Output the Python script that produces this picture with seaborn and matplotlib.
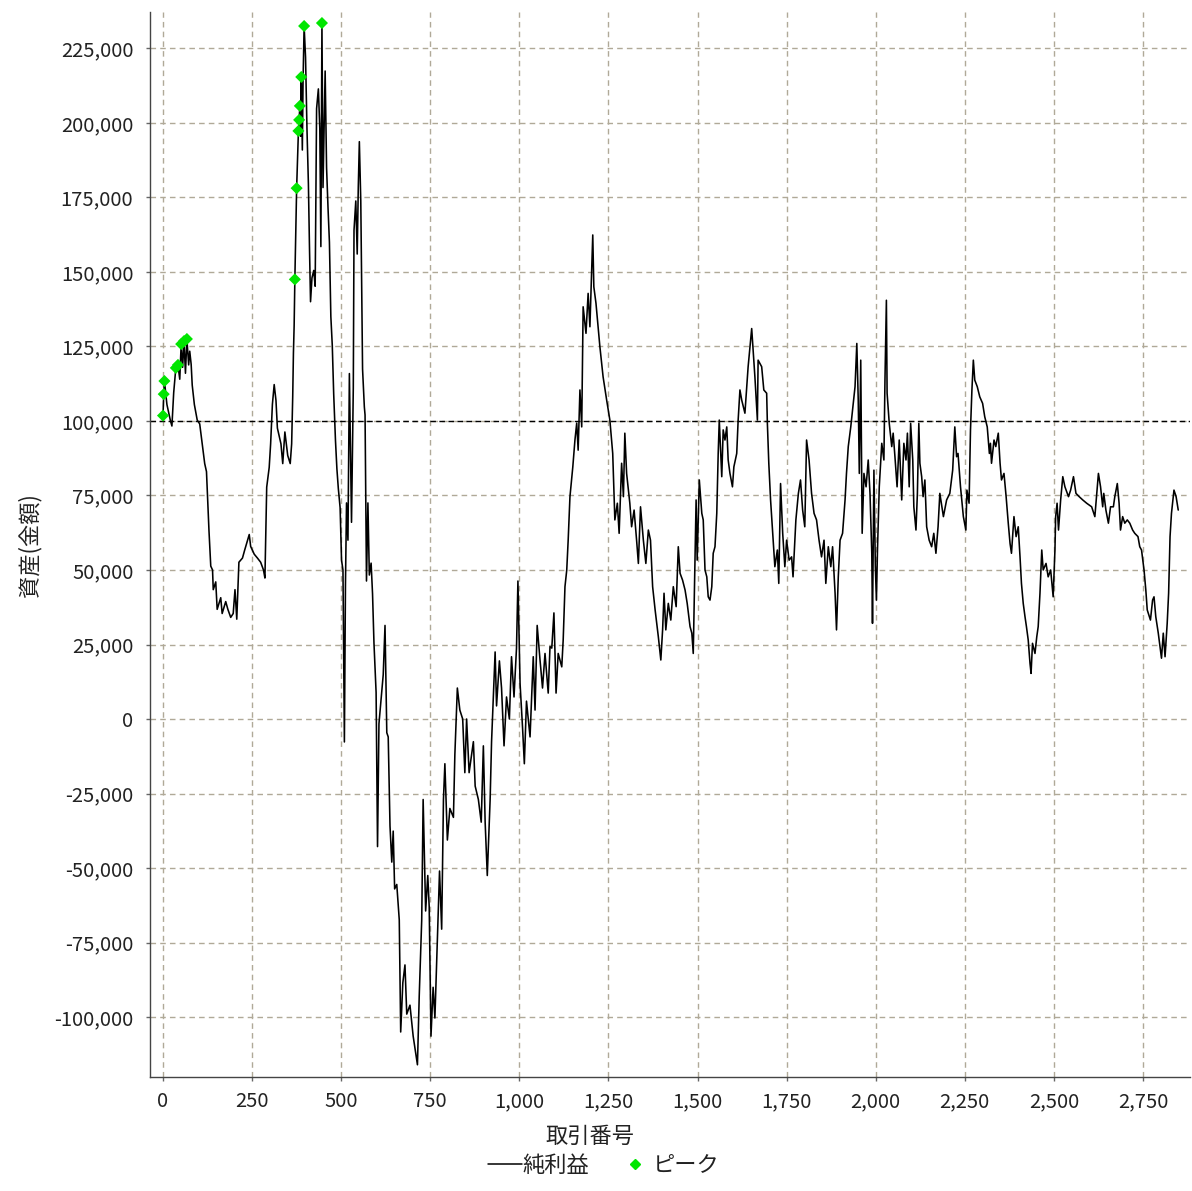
import numpy as np
import pandas as pd
import matplotlib
matplotlib.use('Agg')
import matplotlib.pyplot as plt
from matplotlib.lines import Line2D
from matplotlib.ticker import FuncFormatter, MultipleLocator
import seaborn as sns

# equity curve (trade number, equity in thousands)
trade_no = [
    0, 2, 4, 11, 21, 25, 30, 36, 42, 47,
    51, 55, 59, 63, 67, 72, 75, 79, 82, 88,
    96, 103, 110, 117, 122, 129, 134, 139, 141, 148,
    152, 162, 166, 176, 182, 190, 197, 202, 207, 213,
    223, 229, 242, 246, 256, 265, 274, 282, 286, 291,
    298, 302, 307, 312, 317, 321, 331, 336, 342, 350,
    357, 361, 364, 366, 368, 370, 375, 380, 382, 384,
    386, 388, 391, 393, 396, 400, 404, 408, 411, 414,
    418, 423, 427, 431, 436, 440, 443, 446,
    449, 455, 459, 463, 467, 471, 475, 479, 484, 488,
    492, 497, 501, 505, 509, 512, 515, 519, 523, 529,
    534, 536, 541, 545, 548, 551, 555, 560, 565, 567,
    569, 571, 575, 579, 584, 588, 592, 598, 602, 606,
    612, 618, 623, 628, 632, 637, 642, 646, 650, 656,
    663, 667, 673, 679, 684, 693, 702, 714, 719, 726,
    730, 737, 743, 747, 752, 758, 763, 770, 776, 782,
    787, 791, 798, 805, 815, 819, 826, 833, 841, 847,
    852, 859, 871, 876, 885, 893, 899, 904, 910, 918,
    922, 932, 936, 944, 950, 957, 964, 972, 978, 985,
    992, 996, 1002, 1009, 1014, 1020, 1030, 1039, 1044, 1050,
    1058, 1065, 1072, 1081, 1086, 1091, 1097, 1103, 1109, 1119,
    1123, 1128, 1133, 1137, 1142, 1150, 1156, 1161, 1165, 1170,
    1175, 1179, 1187, 1193, 1198, 1203, 1206, 1209, 1215, 1226,
    1235, 1245, 1254, 1262, 1268, 1275, 1280, 1287, 1292, 1296,
    1301, 1310, 1315, 1322, 1329, 1334, 1340, 1348, 1355, 1362,
    1368, 1374, 1381, 1390, 1397, 1402, 1406, 1411, 1418, 1425,
    1432, 1440, 1446, 1451, 1458, 1465, 1471, 1479, 1484, 1488,
    1493, 1496, 1499, 1505, 1512, 1516, 1521, 1526, 1530, 1535,
    1540, 1544, 1549, 1554, 1558, 1561, 1568, 1572, 1577, 1582,
    1586, 1591, 1598, 1602, 1610, 1614,
    1619, 1624, 1633, 1642, 1652, 1661, 1668, 1670, 1680, 1686,
    1694, 1696, 1700, 1705, 1711, 1717, 1724, 1728, 1733, 1739,
    1745, 1750, 1757, 1764, 1768, 1776, 1783, 1789, 1795, 1801,
    1806, 1813, 1820, 1827, 1834, 1841, 1848, 1855, 1860, 1867,
    1874, 1879, 1886, 1890, 1895, 1900, 1907, 1914, 1918, 1923,
    1930, 1935, 1942, 1947, 1951, 1954, 1958, 1962, 1967, 1973,
    1979, 1984, 1989, 1991, 1995, 1999, 2002, 2005, 2010, 2017,
    2023, 2026, 2030, 2032, 2038, 2045, 2049, 2054, 2060, 2066,
    2073, 2079, 2085, 2089, 2094, 2098, 2104, 2107, 2113, 2117,
    2121, 2124, 2129, 2133, 2138, 2143, 2150, 2157, 2163, 2169,
    2175,
    2180, 2190, 2199, 2208, 2216, 2222, 2227, 2231, 2238, 2246,
    2253, 2256, 2262, 2266, 2270, 2274, 2278, 2285, 2292, 2300,
    2306, 2313, 2319, 2322, 2325, 2332, 2337, 2344, 2349, 2353,
    2360, 2366, 2372, 2377, 2381, 2388, 2394, 2400, 2405, 2409,
    2414, 2419, 2423, 2428, 2433, 2436, 2440, 2447, 2452, 2456,
    2461, 2466, 2470, 2478, 2484, 2491, 2498, 2503, 2505, 2509,
    2513, 2519, 2525, 2531, 2541, 2547, 2555, 2562, 2571, 2581,
    2592, 2606, 2615, 2625, 2631, 2637, 2640, 2646, 2653, 2659,
    2667, 2671, 2678, 2683, 2687, 2693, 2699, 2706, 2713, 2721,
    2727, 2736, 2741, 2746, 2753, 2758, 2762, 2768, 2771, 2777,
    2781, 2786, 2793, 2799, 2802, 2807, 2812, 2818, 2822, 2826,
    2830, 2837, 2843, 2846, 2849,
]
equity_k = [
    101.8, 109.0, 113.4, 105.5, 100.0, 98.3, 109.5, 117.8, 118.8, 114.0,
    125.8, 118.0, 126.8, 116.0, 127.5, 118.8, 123.4, 119.0, 112.0, 105.5,
    100.3, 99.0, 92.3, 85.7, 83.0, 63.2, 51.3, 50.0, 43.4, 46.0,
    36.8, 40.7, 35.4, 39.4, 36.8, 34.1, 35.4, 43.4, 33.5, 52.6,
    54.0, 56.6, 61.9, 57.9, 55.3, 54.0, 52.6, 50.0, 47.3, 77.8,
    84.4, 92.3, 105.6, 112.2, 106.9, 97.6, 92.3, 85.7, 96.3, 88.4,
    85.7, 92.3, 108.2, 122.8, 132.0, 147.5, 178.1, 197.3, 201.0, 205.7,
    195.5, 215.4, 190.9, 214.0, 232.5, 222.0, 198.0, 179.6, 158.5, 140.0,
    148.0, 150.5, 145.2, 204.8, 211.4, 198.2, 158.5, 233.5,
    178.3, 217.4, 185.0, 171.7, 160.0, 135.0, 125.4, 109.0, 93.4, 83.9,
    77.3, 70.9, 53.3, 50.0, -7.7, 45.0, 72.5, 60.0, 115.9, 66.0,
    111.0, 164.0, 173.8, 156.0, 178.5, 193.7, 173.8, 117.4, 104.7, 102.0,
    71.8, 46.3, 72.5, 48.3, 52.3, 42.0, 25.5, 8.9, -42.8, -1.6,
    6.7, 14.9, 31.4, -4.6, -6.0, -35.9, -48.0, -37.6, -57.0, -55.5,
    -67.4, -105.0, -88.5, -82.5, -99.0, -96.0, -106.4, -116.0, -93.0, -67.4,
    -27.0, -64.4, -52.5, -63.0, -106.4, -90.0, -100.3, -73.5, -51.0, -70.5,
    -27.0, -15.0, -40.6, -30.0, -33.0, -12.0, 10.4, 3.0, 0.0, -18.0,
    0.0, -18.0, -7.6, -22.5, -27.0, -34.6, -9.0, -34.6, -52.5, -27.0,
    -7.6, 22.5, 4.4, 19.5, 10.4, -9.0, 7.4, 0.0, 20.9, 7.4,
    23.8, 46.3, 11.9, -3.0, -15.0, 6.0, -6.0, 20.9, 3.0, 31.4,
    19.8, 10.4, 22.0, 8.7, 24.3, 23.8, 35.6, 8.7, 22.0, 17.5,
    26.5, 44.4, 50.0, 60.0, 74.6, 84.6, 93.6, 99.3, 90.2, 110.4,
    98.0, 138.3, 129.4, 142.8, 131.6, 150.6, 162.4, 145.0, 139.5, 124.9,
    114.8, 107.0, 100.3, 89.1, 66.8, 72.4, 62.3, 85.8, 74.6, 95.9,
    82.4, 72.4, 64.5, 70.1, 60.0, 52.2, 71.2, 60.0, 52.2, 63.4,
    60.0, 44.4, 36.6, 27.6, 19.8, 29.9, 42.2, 29.9, 38.8, 33.2,
    44.4, 37.7, 57.8, 48.9, 46.6, 43.3, 38.8, 31.0, 28.8, 22.0,
    53.3, 73.5, 53.3, 80.2, 69.0, 66.8, 50.0, 47.7, 41.0, 39.9,
    44.4, 55.6, 57.8, 69.0, 89.1, 100.3, 81.3, 97.0, 93.6, 98.0,
    86.9, 82.4, 77.9, 84.6, 89.1, 100.3,
    110.4, 107.0, 102.6, 118.2, 131.0, 114.8, 100.3, 120.4, 118.2, 110.4,
    109.3, 99.2, 85.8, 73.5, 62.3, 51.1, 56.7, 45.5, 79.0, 62.3,
    51.1, 60.0, 53.3, 54.4, 47.7, 66.8, 75.7, 80.2, 70.1, 64.5,
    93.6, 86.9, 75.7, 69.0, 66.8, 60.0, 54.4, 60.0, 45.5, 57.8,
    51.1, 57.8, 42.2, 29.9, 47.7, 60.0, 62.3, 73.5, 82.4, 91.4,
    98.0, 103.7, 111.5, 126.0, 107.0, 82.4, 120.4, 62.3, 82.4, 77.9,
    86.9, 75.7, 55.6, 32.1, 83.5, 51.1, 39.9, 56.7, 77.9, 92.5,
    86.9, 113.7, 140.5, 109.3, 99.2, 91.4, 95.9, 88.0, 77.9, 93.6,
    73.5, 92.5, 86.9, 95.9, 77.9, 99.2, 86.9, 71.2, 63.4, 75.7,
    99.2, 85.8, 81.3, 74.6, 80.2, 64.5, 60.0, 57.8, 62.3, 55.6,
    64.5,
    75.7, 67.9, 73.5, 75.7, 83.5, 98.0, 88.0, 89.1, 77.9, 67.9,
    63.4, 76.8, 72.4, 97.0, 110.4, 120.4, 113.7, 111.5, 108.1, 105.9,
    101.4, 98.0, 89.1, 92.5, 85.8, 93.6, 91.4, 95.9, 85.8, 80.2,
    82.4, 74.6, 65.7, 58.9, 55.6, 67.9, 61.2, 64.5, 54.4, 45.5,
    38.8, 34.3, 31.0, 26.5, 18.7, 15.3, 25.4, 22.0, 27.6, 31.0,
    42.2, 56.7, 50.0, 52.2, 47.7, 50.0, 41.0, 56.7, 67.9, 72.4,
    63.4, 73.5, 81.3, 77.9, 74.6, 76.8, 81.3, 75.7, 74.6, 73.5,
    72.4, 71.2, 67.9, 82.4, 77.9, 71.2, 75.7, 70.1, 65.7, 71.2,
    71.2, 74.6, 79.0, 72.4, 63.4, 67.9, 65.7, 66.8, 65.7, 63.4,
    62.3, 61.2, 57.8, 56.7, 50.0, 43.3, 36.6, 34.3, 33.2, 39.9,
    41.0, 34.3, 28.8, 23.2, 20.4, 28.8, 20.9, 32.1, 42.2, 61.2,
    69.0, 76.8, 74.6, 72.4, 70.1,
]

# equity peaks (new highs) marked in green
peak_trade_no = [0, 2, 4, 36, 42, 51, 59, 67, 370, 375, 380, 382, 384, 388, 396, 446]
peak_equity_k = [101.8, 109.0, 113.4, 117.8, 118.8, 125.8, 126.8, 127.5,
                 147.5, 178.1, 197.3, 201.0, 205.7, 215.4, 232.5, 233.5]

initial_capital = 100000

assert len(trade_no) == len(equity_k)

df = pd.DataFrame({'trade': trade_no, 'equity': np.array(equity_k) * 1000})
peaks = pd.DataFrame({'trade': peak_trade_no, 'equity': np.array(peak_equity_k) * 1000})

sns.set_style('white')
plt.rcParams['font.family'] = ['Noto Sans CJK JP', 'DejaVu Sans']

W, H = 1192, 1191
fig = plt.figure(figsize=(W / 100, H / 100), dpi=100)
ax = fig.add_axes([150 / W, 1 - 1077 / H, 1040 / W, 1065 / H])

grid_col = '#b0a998'
ax.grid(True, color=grid_col, linestyle=(0, (4, 3)), linewidth=1)
ax.set_axisbelow(True)

# initial capital line
ax.axhline(initial_capital, color='black', linestyle=(0, (4, 2.5)), linewidth=1, zorder=1.5)

sns.lineplot(data=df, x='trade', y='equity', estimator=None, sort=False,
             color='black', linewidth=1.15, ax=ax, zorder=2)
sns.scatterplot(data=peaks, x='trade', y='equity', marker='D', s=38,
                color='#00e600', edgecolor='none', ax=ax, zorder=3)

ax.set_xlim(-36.5, 2882)
ax.set_ylim(-120100, 237200)
ax.xaxis.set_major_locator(MultipleLocator(250))
ax.yaxis.set_major_locator(MultipleLocator(25000))
fmt = FuncFormatter(lambda v, p: f'{v:,.0f}')
ax.xaxis.set_major_formatter(fmt)
ax.yaxis.set_major_formatter(fmt)

for side in ['top', 'right']:
    ax.spines[side].set_visible(False)
for side in ['left', 'bottom']:
    ax.spines[side].set_color('#444444')
    ax.spines[side].set_linewidth(1)

ax.tick_params(axis='both', direction='out', length=3, width=1, color='#666666',
               labelsize=14.5, labelcolor='#222222')
ax.tick_params(axis='y', pad=9, left=True)
ax.tick_params(axis='x', pad=7, bottom=True)

ax.set_xlabel('')
ax.set_ylabel('')
fig.text(30 / W, 1 - 545 / H, '資産(金額)', rotation=90, ha='center', va='center',
         fontsize=16, color='#222222')
fig.text(590 / W, 1 - 1136 / H, '取引番号', ha='center', va='center',
         fontsize=16, color='#222222')

handles = [Line2D([0], [0], color='black', linewidth=1.1),
           Line2D([0], [0], marker='D', color='#00e600', linestyle='none', markersize=5)]
fig.legend(handles, ['純利益', 'ピーク'], loc='center', ncol=2,
           bbox_to_anchor=(604 / W, 1 - 1165 / H), frameon=False,
           fontsize=16, handlelength=1.5, handletextpad=0.05, columnspacing=1.3,
           borderpad=0, labelcolor='#222222')

plt.savefig('out.png', dpi=100)
